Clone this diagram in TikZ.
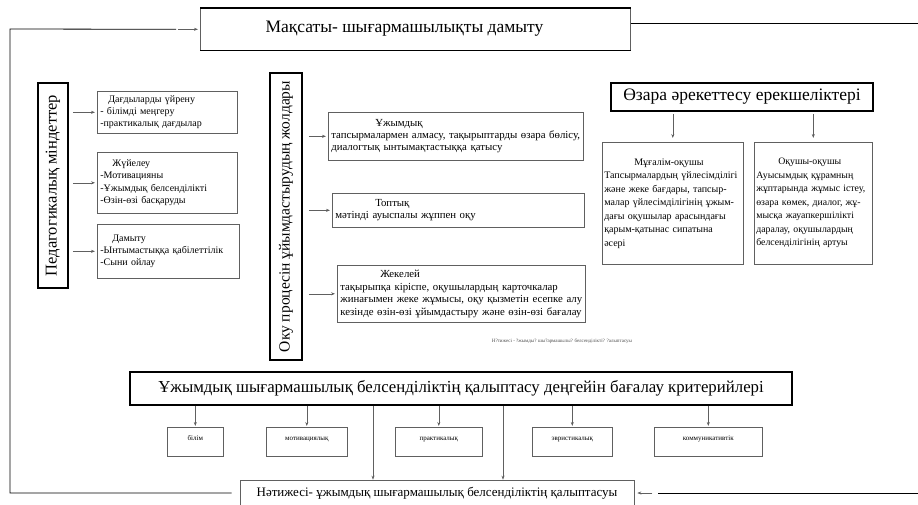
\documentclass[tikz,border=0pt]{standalone}
\usepackage{fontspec}
\setmainfont{Liberation Serif}
\usepackage{tikz}
\usetikzlibrary{arrows.meta}

\begin{document}
\begin{tikzpicture}[x = 1pt, y = -1pt,
    tbox/.style = {draw = gray!75!black, line width = 0.6pt, anchor = north west, align = left, inner sep = 3pt},
    hbox/.style = {draw, line width = 1.5pt, inner sep = 3pt},
    crit/.style = {draw = gray!75!black, line width = 0.6pt, anchor = north west, inner sep = 0pt, minimum height = 29pt, text height = 5pt, text depth = 7pt, font = \fontsize{7}{8}\selectfont},
    arr/.style = {draw = gray!75!black, line width = 0.6pt, -{Stealth[length = 4pt, width = 3pt]}},
    ln/.style = {line width = 0.8pt}]
    \useasboundingbox (0,0) rectangle (918,504);

    \begin{scope}
        \node[draw = gray!75!black, line width = 0.6pt, minimum width = 430pt, minimum height = 42pt, anchor = north west] (goal) at (200,8) {};
        \draw[line width = 1.5pt] (goal.north west) -- (goal.north east);
        \draw[line width = 1.5pt] (goal.south west) -- (goal.south east);
        \node[anchor = west, font = \fontsize{17.5}{20}\selectfont] (goaltext) at (262,29) {Мақсаты- шығармашылықты дамыту};

        \node[draw = gray!75!black, line width = 0.6pt, minimum width = 394pt, minimum height = 26pt, font = \fontsize{13}{15}\selectfont] (result) at (437,493) {Нәтижесі- ұжымдық шығармашылық белсенділіктің қалыптасуы};

        \coordinate (ltop) at (10,29);
        \coordinate (lbot) at (10,493);
        \coordinate (rtop) at (918,23);
        \coordinate (rbot) at (918,493);
        \draw[ln] ([xshift = -8pt]result.west) -- (lbot) -- (ltop) -- ([xshift = -24pt]goal.west);
        \draw[arr] ([xshift = -22pt]goal.west) -- ([xshift = -2pt]goal.west);
        \draw[ln] (goal.east |- rtop) -- (rtop);
        \draw[ln] (rbot) -- ([xshift = 24pt]result.east);
        \draw[arr] ([xshift = 18pt]result.east) -- ([xshift = 3pt]result.east);
    \end{scope}

    \begin{scope}
        \node[hbox, rotate = 90, minimum width = 205pt, minimum height = 30pt, font = \fontsize{16.5}{18}\selectfont] (tasks) at (53,185.5) {Педагогикалық міндеттер};

        \node[tbox, text width = 134pt, minimum height = 42pt, font = \fontsize{10}{12}\selectfont] (skills) at (97,91) {\hspace*{8pt}Дағдыларды үйрену\\- білімді меңгеру\\-практикалық дағдылар};
        \node[tbox, text width = 134pt, minimum height = 61pt, font = \fontsize{10}{12.5}\selectfont] (system) at (97,152) {\hspace*{12pt}Жүйелеу\\-Мотивацияны\\-Ұжымдық белсенділікті\\-Өзін-өзі басқаруды};
        \node[tbox, text width = 136pt, minimum height = 54pt, font = \fontsize{10}{12}\selectfont] (develop) at (97,224) {\hspace*{12pt}Дамыту\\-Ынтымастыққа қабілеттілік\\-Сыни ойлау};

        \foreach \target in {skills, system, develop}
            \draw[arr, shorten < = 4pt, shorten > = 2pt] (tasks.south |- \target.west) -- (\target.west);
    \end{scope}

    \begin{scope}
        \node[hbox, rotate = 90, minimum width = 287pt, minimum height = 32pt, font = \fontsize{15.5}{18}\selectfont] (ways) at (286,216.5) {Оку процесін ұйымдастырудың жолдары};

        \node[tbox, text width = 249pt, minimum height = 48pt, font = \fontsize{10.8}{12}\selectfont] (collective) at (328,112) {\hspace*{44pt}Ұжымдық\\тапсырмалармен алмасу, тақырыптарды өзара бөлісу,\\диалогтық ынтымақтастыққа қатысу};
        \node[tbox, text width = 246pt, minimum height = 34pt, font = \fontsize{10.8}{12}\selectfont] (group) at (332,193) {\hspace*{40pt}Топтық\\мәтінді ауыспалы жұппен оқу};
        \node[tbox, text width = 242pt, minimum height = 57pt, font = \fontsize{10.8}{12.5}\selectfont] (single) at (337,265) {\hspace*{40pt}Жекелей\\тақырыпқа кіріспе, оқушылардың карточкалар\\жинағымен жеке жұмысы, оқу қызметін есепке алу\\кезінде өзін-өзі ұйымдастыру және өзін-өзі бағалау};

        \foreach \target in {collective, group, single}
            \draw[arr, shorten < = 6pt, shorten > = 2pt] (ways.south |- \target.west) -- (\target.west);

        \node[font = \fontsize{5}{6}\selectfont, text = gray!60!black] (note) at (562,341) {Н?тижесі - ?жымды? шы?армашылы? белсенділікті? ?алыптасуы};
    \end{scope}

    \begin{scope}
        \node[hbox, minimum width = 262pt, minimum height = 28pt, font = \fontsize{17.5}{20}\selectfont] (inter) at (742,97) {Өзара әрекеттесу ерекшеліктері};

        \node[tbox, inner xsep = 2pt, text width = 137pt, minimum height = 122pt, font = \fontsize{10}{13.5}\selectfont] (teacher) at (602,142) {\hspace*{30pt}Мұғалім-оқушы\\Тапсырмалардың үйлесімділігі\\және жеке бағдары, тапсыр-\\малар үйлесімділігінің ұжым-\\дағы оқушылар арасындағы\\қарым-қатынас сипатына\\әсері};
        \node[tbox, inner xsep = 2pt, text width = 114pt, minimum height = 122pt, font = \fontsize{9.8}{13.5}\selectfont] (peer) at (754,142) {\hspace*{22pt}Оқушы-оқушы\\Ауысымдық құрамның\\жұптарында жұмыс істеу,\\өзара көмек, диалог, жұ-\\мысқа жауапкершілікті\\даралау, оқушылардың\\белсенділігінің артуы};

        \draw[arr, shorten < = 2pt, shorten > = 4pt] (inter.south -| teacher.north) -- (teacher.north);
        \draw[arr, shorten < = 2pt, shorten > = 4pt] (inter.south -| peer.north) -- (peer.north);
    \end{scope}

    \begin{scope}
        \node[hbox, minimum width = 662pt, minimum height = 33pt, font = \fontsize{16.8}{18}\selectfont] (criteria) at (461,388.5) {Ұжымдық шығармашылық белсенділіктің қалыптасу деңгейін бағалау критерийлері};

        \foreach \name/\x/\w/\txt in {knowledge/167/56/білім, motive/266/81/мотивациялық, practice/395/87/практикалық, heuristic/532/80/эвристикалық, communic/654/108/коммуникативтік} {
            \node[crit, minimum width = \w pt] (\name) at (\x,427) {\txt};
            \draw[arr, shorten > = 1pt] (criteria.south -| \name.north) -- (\name.north);
        }

        \draw[arr] ([xshift = -64pt]result.north |- criteria.south) -- ([xshift = -64pt]result.north);
        \draw[arr] ([xshift = 66pt]result.north |- criteria.south) -- ([xshift = 66pt]result.north);
    \end{scope}

\end{tikzpicture}
\end{document}
